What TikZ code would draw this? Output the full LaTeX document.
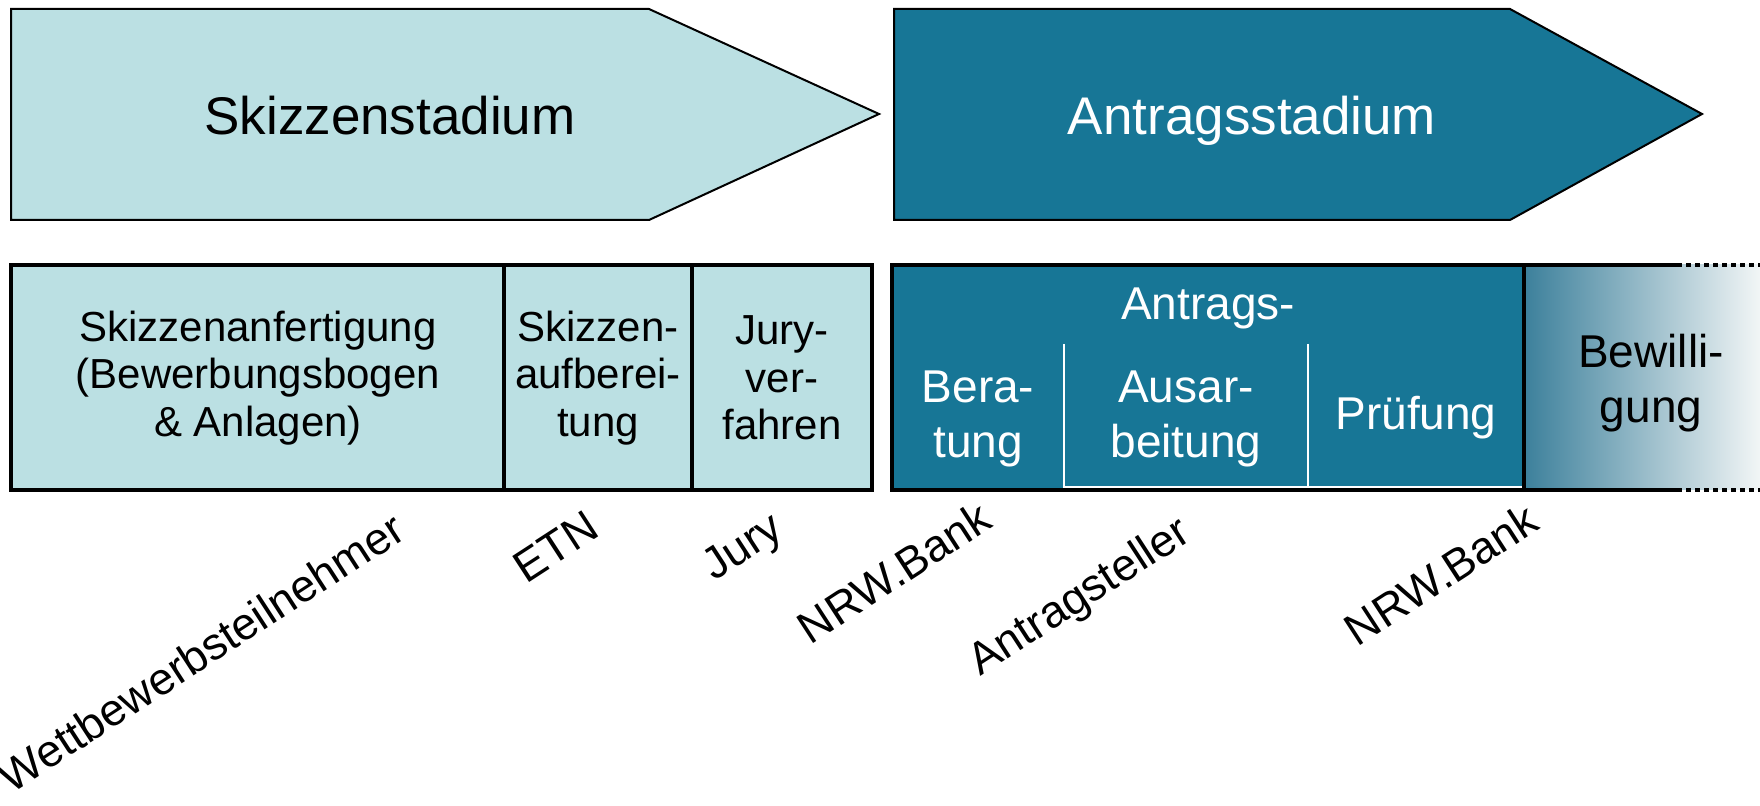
\documentclass[tikz,border=0pt]{standalone}
\usepackage{fontspec}
\setmainfont{Liberation Sans}
\definecolor{lightteal}{RGB}{187,224,227}
\definecolor{darkteal}{RGB}{23,118,150}
\definecolor{gradL}{RGB}{60,128,155}
\definecolor{gradR}{RGB}{242,246,246}
\begin{document}
\begin{tikzpicture}[x=0.5pt,y=-0.5pt,
  arrowshape/.style={draw=black,line width=1pt,line join=miter},
  boxline/.style={draw=black,line width=1.75pt},
  whiteline/.style={draw=white,line width=0.9pt},
  title/.style={font=\fontsize{26.5}{30}\selectfont,inner sep=0pt,anchor=base},
  lefttext/.style={font=\fontsize{21}{23.75}\selectfont,align=center,inner sep=0pt},
  righttext/.style={font=\fontsize{23}{27.5}\selectfont,align=center,inner sep=0pt,text=white},
  role/.style={font=\fontsize{22.5}{27}\selectfont,inner sep=0pt,anchor=base east,rotate=33},
  dotline/.style={draw=black,line width=1.75pt,dash pattern=on 2.5pt off 2pt}]
\useasboundingbox (0,0) rectangle (1760,806);
\fill[white] (0,0) rectangle (1760,806);
% stage arrows
\draw[arrowshape,fill=lightteal] (11,9) -- (649,9) -- (879,114) -- (649,220) -- (11,220) -- cycle;
\draw[arrowshape,fill=darkteal] (894,9) -- (1510,9) -- (1702,114) -- (1510,220) -- (894,220) -- cycle;
\node[title] (t1) at (390,135) {Skizzenstadium};
\node[title,text=white] (t2) at (1252,135) {Antragsstadium};
% left box
\fill[lightteal] (11,265) rectangle (872,490);
\draw[boxline] (11,265) rectangle (872,490);
\draw[boxline] (504,265) -- (504,490);
\draw[boxline] (692,265) -- (692,490);
\node[lefttext] (s1) at (258,378) {Skizzenanfertigung\\(Bewerbungsbogen\\\& Anlagen)};
\node[lefttext] (s2) at (598,378) {Skizzen-\\aufberei-\\tung};
\node[lefttext] (s3) at (782,378) {Jury-\\ver-\\fahren};
% right box
\fill[darkteal] (892,265) rectangle (1524,490);
\shade[left color=gradL,right color=gradR] (1524,265) rectangle (1760,490);
\draw[whiteline] (1064,344) -- (1064,487) -- (1524,487);
\draw[whiteline] (1308,344) -- (1308,487);
\draw[boxline] (892,265) rectangle (1524,490);
\draw[boxline] (1524,265) -- (1677,265);
\draw[boxline] (1524,490) -- (1677,490);
\draw[dotline] (1677,265) -- (1760,265);
\draw[dotline] (1677,490) -- (1760,490);
\node[righttext,anchor=base] (a0) at (1208,320) {Antrags-};
\node[righttext] (a1) at (978,419) {Bera-\\tung};
\node[righttext] (a2) at (1186,419) {Ausar-\\beitung};
\node[righttext,anchor=base] (a3) at (1416,430) {Prüfung};
\node[righttext,text=black] (a4) at (1651,383) {Bewilli-\\gung};
% roles
\node[role] (r1) at (408,537) {Wettbewerbsteilnehmer};
\node[role] (r2) at (602,535) {ETN};
\node[role] (r3) at (786,535) {Jury};
\node[role] (r4) at (995,526) {NRW.Bank};
\node[role] (r5) at (1193,539) {Antragsteller};
\node[role] (r6) at (1542,528) {NRW.Bank};
\end{tikzpicture}
\end{document}
